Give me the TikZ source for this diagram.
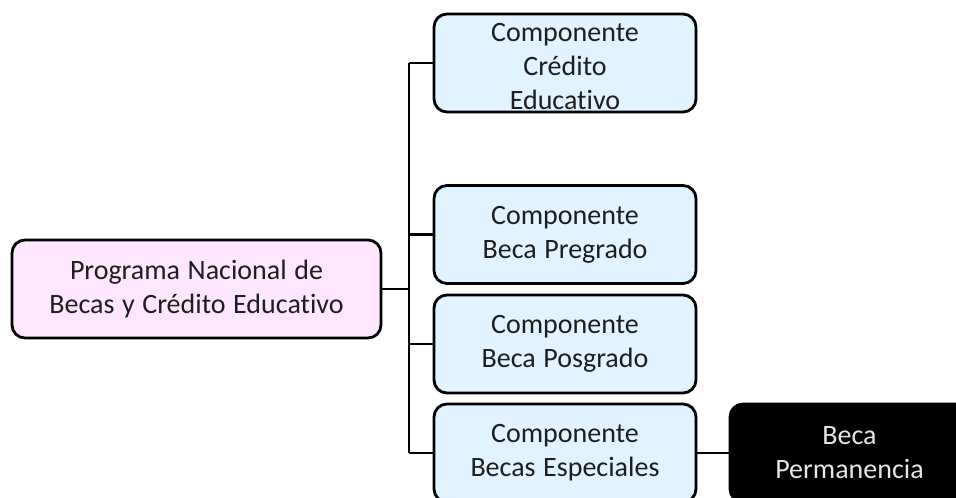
\documentclass[tikz,border=0pt]{standalone}
\usepackage{fontspec}
\setmainfont{Carlito}[Ligatures=NoCommon,WordSpace=1.2]
\usepackage{tikz}
\usetikzlibrary{positioning}
\definecolor{pinkfill}{HTML}{FFE6FF}
\definecolor{bluefill}{HTML}{E1F3FF}
\definecolor{txtgray}{HTML}{1E1E1E}
\tikzset{
  box/.style={draw=black,line width=2.8pt,rounded corners=13pt,align=center,
    text=txtgray,font=\fontsize{28}{34}\selectfont,inner sep=0pt},
  comp/.style={box,fill=bluefill,minimum width=262pt,minimum height=98pt},
  link/.style={line width=2.8pt}
}
\begin{document}
\begin{tikzpicture}[x=1pt,y=-1pt]
        \useasboundingbox (0,0) rectangle (956,498);
        \clip (0,0) rectangle (956,498);
        \node[box,fill=pinkfill,minimum width=369pt,minimum height=98pt] (prog) at (196.5,289)
             {Programa Nacional de\\Becas y Crédito  Educativo};
        \node[comp] (cred) at (565,63) {};
        \node[box,draw=none] (credtxt) at ([yshift=-4pt]cred.center) {Componente\\Crédito\\Educativo};
        \node[comp] (pre) at (565,234.5) {Componente\\Beca Pregrado};
        \node[comp] (pos) at (565,344) {Componente\\Beca Posgrado};
        \node[comp] (esp) at (565,453) {Componente\\Becas Especiales};
        \node[box,fill=black,text=white!90!black,minimum width=239pt,minimum height=98pt] (perm) at (849.5,453)
             {Beca\\Permanencia};
        \coordinate (jn) at (409,289); % edit here for the trunk
        \draw[link] (prog.east) -- (jn);
        \draw[link] (jn |- cred.west) -- (jn |- esp.west);
        \foreach \c in {cred,pre,pos,esp} % edit here for the branches
        \draw[link] (jn |- \c.west) -- (\c.west);
        \draw[link] (esp.east) -- (perm.west);
\end{tikzpicture}
\end{document}
